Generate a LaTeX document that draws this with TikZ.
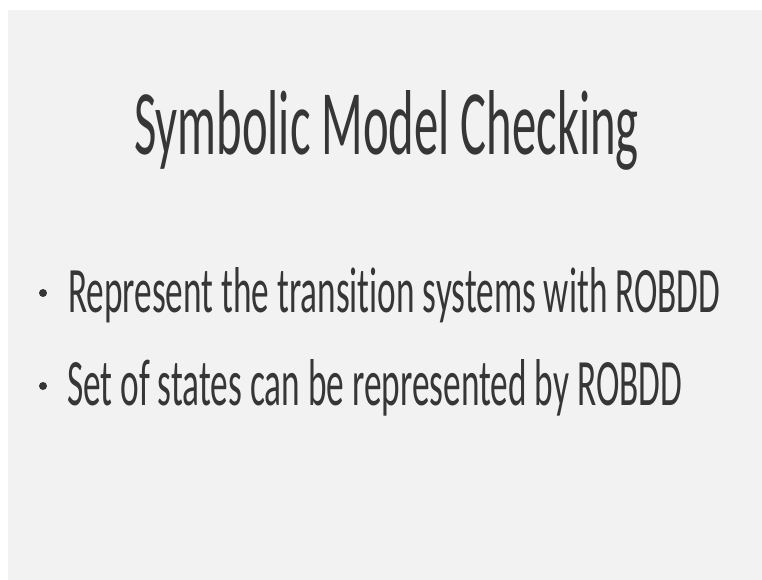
\documentclass[tikz,border=0pt]{standalone}
\usepackage{fontspec}
\setmainfont{Carlito}[Ligatures={NoCommon,NoRare}]
\usepackage{graphicx}
\definecolor{slidebg}{HTML}{F2F2F2}
\definecolor{slidetext}{HTML}{363636}
\begin{document}
\begin{tikzpicture}[x=1pt,y=-1pt,
  titletext/.style={inner sep=0pt, text=slidetext, font=\fontsize{88}{100}\selectfont},
  bullettext/.style={inner sep=0pt, text=slidetext, font=\fontsize{52}{60}\selectfont},
  bulletdot/.style={circle, fill=slidetext, inner sep=0pt, minimum size=8pt}]
  % page and slide area
  \fill[white] (0,0) rectangle (762,580);
  \useasboundingbox (0,0) rectangle (762,580);
  \fill[slidebg] (8,10) rectangle (762,580);
  % title (condensed face: stretched to its width and height)
  \node[titletext, anchor=base] (title) at (386.5,155) {\resizebox{505pt}{64pt}{Symbolic Model Checking}};
  % bullets
  \node[bulletdot] (dot1) at (43,293) {};
  \node[bullettext, anchor=base west] (item1) at (68,312) {\resizebox{652pt}{45pt}{Represent the transition systems with ROBDD}};
  \node[bulletdot] (dot2) at (43,386) {};
  \node[bullettext, anchor=base west] (item2) at (67,405) {\resizebox{615pt}{46pt}{Set of states can be represented by ROBDD}};
\end{tikzpicture}
\end{document}
